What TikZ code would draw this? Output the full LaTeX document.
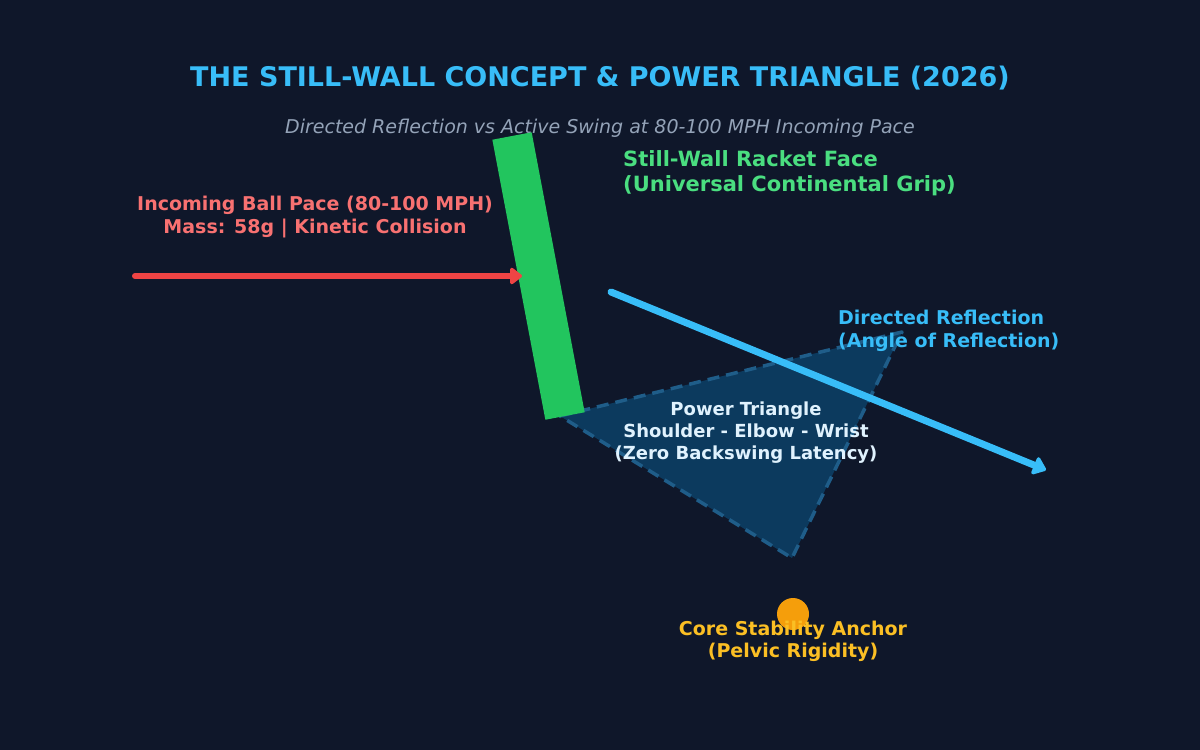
\documentclass[tikz,border=0pt]{standalone}
\usepackage{fontspec}
\setmainfont{DejaVu Sans}
\usetikzlibrary{arrows.meta}
\definecolor{bg}{HTML}{0F172A}
\definecolor{titlec}{HTML}{38BDF8}
\definecolor{subc}{HTML}{94A3B8}
\definecolor{greenc}{HTML}{22C55E}
\definecolor{greent}{HTML}{4ADE80}
\definecolor{redc}{HTML}{EF4444}
\definecolor{redt}{HTML}{F87171}
\definecolor{trif}{HTML}{0C3A5E}
\definecolor{tris}{HTML}{1F5D89}
\definecolor{tritxt}{HTML}{E0F2FE}
\definecolor{orangec}{HTML}{F59E0B}
\definecolor{yellowt}{HTML}{FBBF24}
\tikzset{
  lbl/.style={inner sep=0pt},
}
\begin{document}
\begin{tikzpicture}[x=1pt,y=-1pt]
\fill[bg] (0,0) rectangle (1200,750);
\useasboundingbox (0,0) rectangle (1200,750);
% title
\node[inner sep=0pt, text=titlec, font=\bfseries\fontsize{27}{32}\selectfont] (title) at (600,78) {THE STILL-WALL CONCEPT \& POWER TRIANGLE (2026)};
\node[inner sep=0pt, text=subc, font=\itshape\fontsize{19}{22}\selectfont] (sub) at (600,128) {Directed Reflection vs Active Swing at 80-100 MPH Incoming Pace};
% triangle
\coordinate (ta) at (560,416);
\coordinate (tb) at (902,332);
\coordinate (tc) at (792,558);
\draw[fill=trif, draw=tris, line width=3.5pt, dash pattern=on 12pt off 7pt, line join=round] (ta) -- (tb) -- (tc) -- cycle;
% racket
\coordinate (r1) at (512,136);
\coordinate (r2) at (565,416);
\draw[greenc, line width=40pt] (r1) -- (r2);
% incoming arrow
\coordinate (i1) at (135,276);
\coordinate (i2) at (522,276);
\draw[redc, line width=6pt, line cap=round, -{Triangle[length=13pt,width=19pt,round]}] (i1) -- (i2);
% reflection arrow
\coordinate (o1) at (611,292);
\coordinate (o2) at (1046,470);
\draw[titlec, line width=7pt, line cap=round, -{Triangle[length=14pt,width=21pt,round]}] (o1) -- (o2);
% anchor
\fill[orangec] (793,614) circle (16);
% labels
\node[lbl, text=redt, align=center, font=\bfseries\fontsize{19}{23}\selectfont] (inc) at (315,217) {Incoming Ball Pace (80-100 MPH)\\Mass: 58g | Kinetic Collision};
\node[lbl, text=greent, align=left, anchor=west, font=\bfseries\fontsize{21}{25}\selectfont] (rk) at (623,173.5) {Still-Wall Racket Face\\(Universal Continental Grip)};
\node[lbl, text=titlec, align=left, anchor=west, font=\bfseries\fontsize{19}{23}\selectfont] (dr) at (838,330.5) {Directed Reflection\\(Angle of Reflection)};
\node[lbl, text=tritxt, align=center, font=\bfseries\fontsize{18}{22}\selectfont] (pt) at (746,433) {Power Triangle\\Shoulder - Elbow - Wrist\\(Zero Backswing Latency)};
\node[lbl, text=yellowt, align=center, font=\bfseries\fontsize{19}{22}\selectfont] (core) at (793,641) {Core Stability Anchor\\(Pelvic Rigidity)};
\end{tikzpicture}
\end{document}
